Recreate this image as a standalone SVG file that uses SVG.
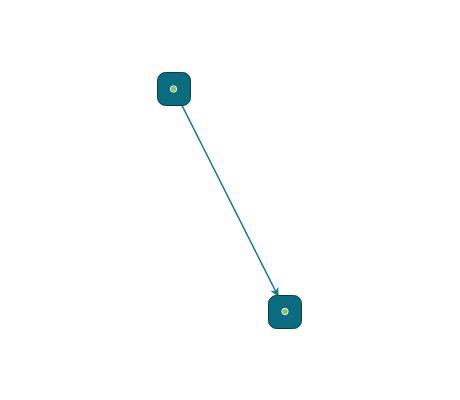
<svg xmlns="http://www.w3.org/2000/svg" width="460" height="400" viewBox="0 0 460 400">
<style>
.node{fill:#0b6b80;stroke:#0a3d47;stroke-width:1}
.dot{fill:#8dc05a;stroke:#e8f2e0;stroke-width:1}
.edge{stroke:#0f7585;stroke-width:1.5;fill:none}
</style>
<defs>
<marker id="arr" viewBox="0 0 10 10" refX="9" refY="5" markerWidth="9" markerHeight="9" markerUnits="userSpaceOnUse" orient="auto">
<path d="M0,0 L10,5 L0,10 L3,5 Z" fill="#0f7585"/>
</marker>
</defs>
<rect width="460" height="400" fill="#ffffff"/>
<g id="connectors">
<line class="edge" x1="181.5" y1="104.5" x2="278" y2="296" marker-end="url(#arr)"/>
</g>
<g id="node1">
<rect class="node" x="157.5" y="72.5" width="33" height="33" rx="8"/>
<circle class="dot" cx="173.5" cy="89" r="3.2"/>
</g>
<g id="node2">
<rect class="node" x="268.5" y="295.5" width="33" height="33" rx="8"/>
<circle class="dot" cx="285" cy="311.5" r="3.2"/>
</g>
</svg>
